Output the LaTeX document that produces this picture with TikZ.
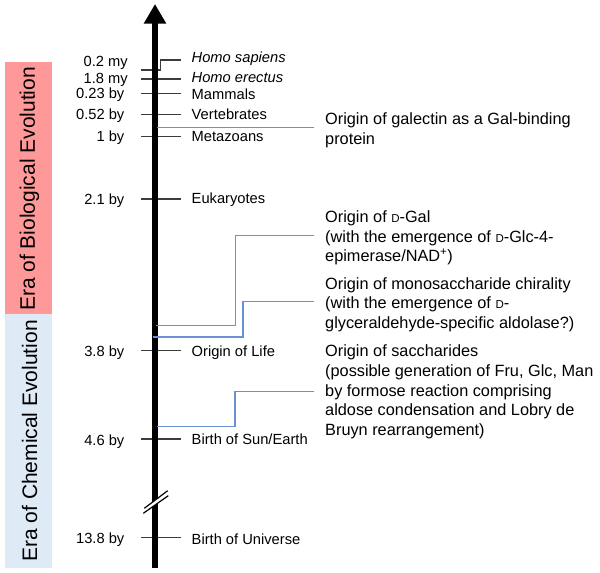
\documentclass[tikz,border=0pt]{standalone}
\usepackage{fontspec}
\setmainfont{Liberation Sans}
\usetikzlibrary{calc, arrows.meta}

\definecolor{eraBio}{RGB}{255,153,153}
\definecolor{eraChem}{RGB}{222,234,246}
\definecolor{linkBlue}{RGB}{108,144,212}
\definecolor{tickGray}{RGB}{60,60,60}

\newcommand{\scD}{{\fontsize{11.5pt}{12pt}\selectfont D}}

\begin{document}
\begin{tikzpicture}[x=1pt, y=-1pt,
    ticksty/.style={draw=tickGray, line width=1.2pt},
    link/.style={draw=linkBlue, line width=1.3pt},
    yearlbl/.style={anchor=base east, inner sep=0pt, font=\fontsize{14.7}{17}\selectfont},
    eventlbl/.style={anchor=base west, inner sep=0pt, font=\fontsize{14.7}{17}\selectfont},
    note/.style={anchor=west, align=left, inner xsep=11pt, inner ysep=0pt, font=\fontsize{16.3}{19.7}\selectfont},
    eralbl/.style={rotate=90, inner sep=0pt, font=\fontsize{21}{25}\selectfont}]
        \useasboundingbox (0,0) rectangle (600,573);

        % era bands
        \fill[eraBio] (4.7,61.7) rectangle (51.7,314);
        \fill[eraChem] (4.7,314) rectangle (51.7,567.7);
        \node[eralbl] (bio) at (29.5,189) {Era of Biological Evolution};
        \node[eralbl] (chem) at (29.5,441) {Era of Chemical Evolution};

        % ticks
        \draw[ticksty] (141,70) -- (160.7,70) |- (180.5,60);
        \foreach \ty in {79,93.3,114.3,136.7,199,350.7,439,537.7}
            \draw[ticksty] (141,\ty) -- (180.5,\ty);

        % time axis with break
        \draw[line width=6.5pt, -{Triangle[width=21pt,length=19.5pt]}] (155,567.5) -- (155,4);
        \fill[white] (143.3,513.3) -- (168.3,495.7) -- (167.7,490.7) -- (144.3,508.3) -- cycle;
        \draw[line width=1.2pt] (144.3,508.3) -- (167.7,490.7);
        \draw[line width=1.2pt] (143.3,513.3) -- (168.3,495.7);

        % years
        \node[yearlbl] (y1) at (128,66.5) {0.2 my};
        \node[yearlbl] (y2) at (128,83.3) {1.8 my};
        \node[yearlbl] (y3) at (124.5,98.3) {0.23 by};
        \node[yearlbl] (y4) at (124.5,119.3) {0.52 by};
        \node[yearlbl] (y5) at (124.5,141.7) {1 by};
        \node[yearlbl] (y6) at (124.5,204) {2.1 by};
        \node[yearlbl] (y7) at (124.5,356.7) {3.8 by};
        \node[yearlbl] (y8) at (124.5,445) {4.6 by};
        \node[yearlbl] (y9) at (124.5,543.3) {13.8 by};

        % events
        \node[eventlbl] (sapiens) at (191.5,62.7) {\itshape Homo sapiens};
        \node[eventlbl] (erectus) at (191.5,82) {\itshape Homo erectus};
        \node[eventlbl] (mammals) at (191.5,99.7) {Mammals};
        \node[eventlbl] (verteb) at (191.5,119.5) {Vertebrates};
        \node[eventlbl] (metazoa) at (191.5,141.7) {Metazoans};
        \node[eventlbl] (eukary) at (191.5,203.3) {Eukaryotes};
        \node[eventlbl] (life) at (191.5,356.7) {Origin of Life};
        \node[eventlbl] (earth) at (191.5,444.3) {Birth of Sun/Earth};
        \node[eventlbl] (universe) at (191.5,544) {Birth of Universe};

        % origins of sugars
        \node[note] (galectin) at (314,130.5) {Origin of galectin as a Gal-binding\\protein};
        \node[note] (dgal) at (314,238) {Origin of \scD-Gal\\(with the emergence of \scD-Glc-4-\\epimerase/NAD\textsuperscript{+})};
        \node[note] (chiral) at (314,304.5) {Origin of monosaccharide chirality\\(with the emergence of \scD-\\glyceraldehyde-specific aldolase?)};
        \node[note] (sacch) at (314,392) {Origin of saccharides\\(possible generation of Fru, Glc, Man\\by formose reaction comprising\\aldose condensation and Lobry de\\Bruyn rearrangement)};

        \coordinate (gal0) at (157,127.3);
        \coordinate (dgal0) at (156,325.7);
        \coordinate (dgal1) at (235.7,235.7);
        \coordinate (chir0) at (152.5,337);
        \coordinate (chir1) at (243,301.7);
        \coordinate (sac0) at (157,426.7);
        \coordinate (sac1) at (235,391.7);

        \draw[link] (gal0) -- (gal0 -| galectin.west);
        \draw[link] (dgal0) -| (dgal1) -- (dgal1 -| dgal.west);
        \draw[link] (chir0) -| (chir1) -- (chir1 -| chiral.west);
        \draw[link] (sac0) -| (sac1) -- (sac1 -| sacch.west);
    \end{tikzpicture}
\end{document}
